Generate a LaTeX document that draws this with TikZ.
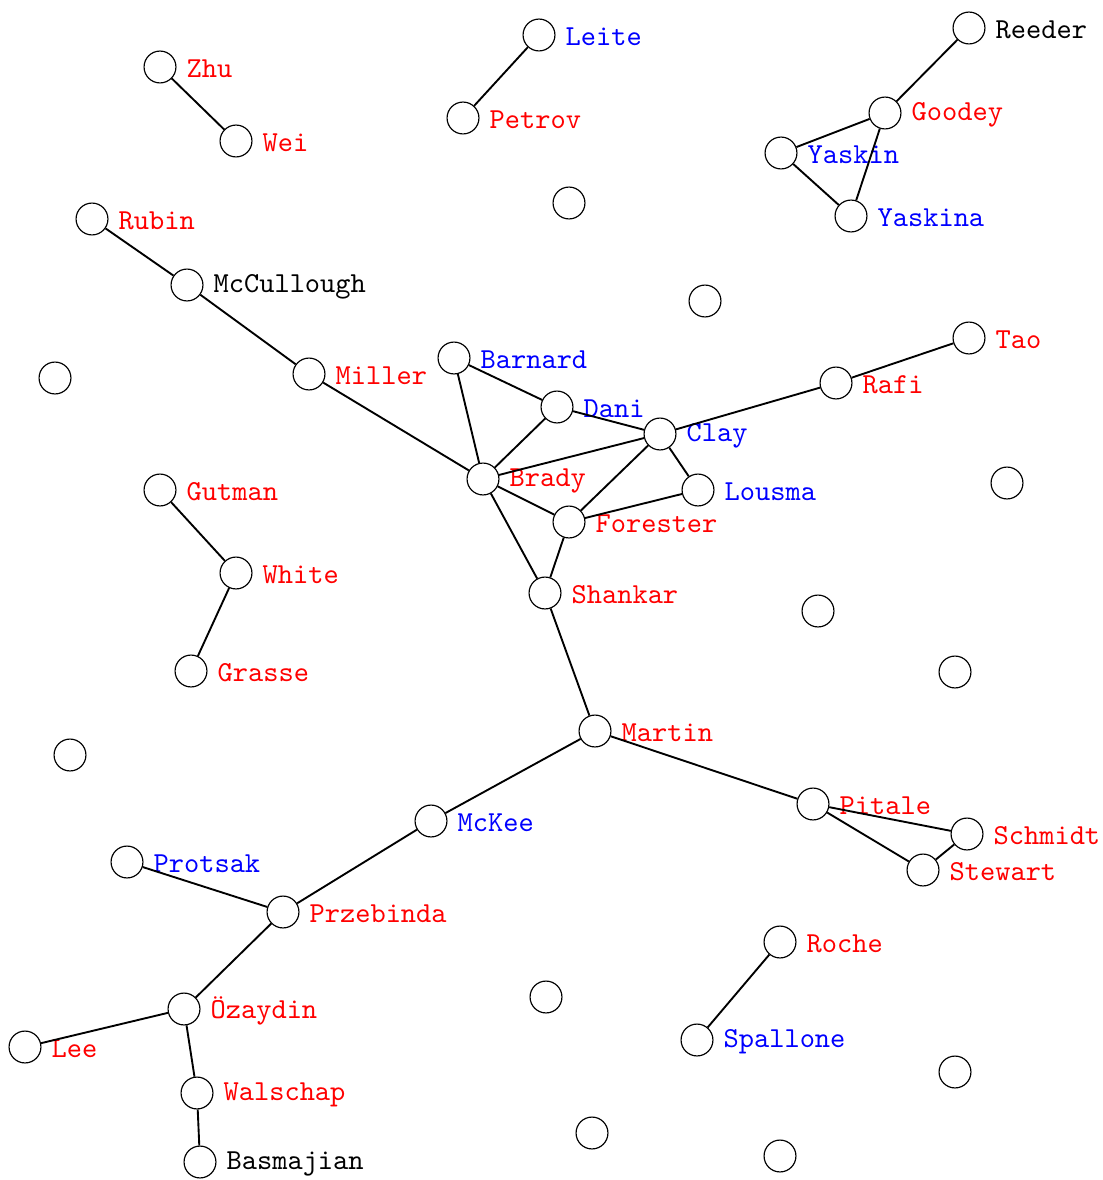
\documentclass[tikz,border=0pt]{standalone}
\usepackage{fontspec}
\begin{document}
\begin{tikzpicture}[x=0.345pt,y=-0.345pt,
  person/.style={circle,draw,line width=0.4pt,minimum size=11pt,inner sep=0pt,fill=white},
  lbl/.style={anchor=west,font=\ttfamily,inner sep=3.3pt,yshift=-0.6pt},
  edge/.style={line width=0.65pt}]
\useasboundingbox (0,0) rectangle (1103,1180);
% nodes
\foreach \n/\x/\y in {Zhu/160/67, Wei/236/141, Leite/539/35, Petrov/463/118, Reeder/969/28,
  Goodey/885/113, Yaskin/781/153, Yaskina/851/216, Rubin/92/219, McCullough/187/285,
  Tao/969/338, Rafi/836/383, Barnard/454/358, Miller/309/374, Dani/557/407, Clay/660/434,
  Brady/483/479, Lousma/698/490, Gutman/160/490, Forester/569/522, White/236/573,
  Shankar/545/593, Grasse/191/671, Martin/595/731, Pitale/813/804, McKee/431/821,
  Schmidt/967/834, Protsak/127/862, Stewart/923/870, Przebinda/283/912, Roche/780/942,
  Ozaydin/184/1009, Spallone/697/1040, Lee/25/1047, Walschap/197/1093, Basmajian/200/1162,
  u1/569/203, u2/705/301, u3/55/378, u4/1007/483, u5/818/611, u6/955/672, u7/70/755,
  u8/546/997, u9/955/1072, u10/592/1133, u11/780/1156}
  \node[person] (\n) at (\x,\y) {};
% labels
\foreach \n/\t/\c in {Zhu/Zhu/red, Wei/Wei/red, Leite/Leite/blue, Petrov/Petrov/red,
  Reeder/Reeder/black, Goodey/Goodey/red, Yaskin/Yaskin/blue, Yaskina/Yaskina/blue,
  Rubin/Rubin/red, McCullough/McCullough/black, Tao/Tao/red, Rafi/Rafi/red,
  Barnard/Barnard/blue, Miller/Miller/red, Dani/Dani/blue, Clay/Clay/blue,
  Brady/Brady/red, Lousma/Lousma/blue, Gutman/Gutman/red, Forester/Forester/red,
  White/White/red, Shankar/Shankar/red, Grasse/Grasse/red, Martin/Martin/red,
  Pitale/Pitale/red, McKee/McKee/blue, Schmidt/Schmidt/red, Protsak/Protsak/blue,
  Stewart/Stewart/red, Przebinda/Przebinda/red, Roche/Roche/red, Ozaydin/Özaydin/red,
  Spallone/Spallone/blue, Lee/Lee/red, Walschap/Walschap/red, Basmajian/Basmajian/black}
  \node[lbl,text=\c] (\n-l) at (\n.east) {\t};
% edges
\foreach \a/\b in {Zhu/Wei, Leite/Petrov, Reeder/Goodey, Goodey/Yaskin, Goodey/Yaskina,
  Yaskin/Yaskina, Rubin/McCullough, McCullough/Miller, Miller/Brady, Barnard/Dani,
  Barnard/Brady, Dani/Brady, Dani/Clay, Clay/Brady, Clay/Rafi, Rafi/Tao, Clay/Lousma,
  Clay/Forester, Lousma/Forester, Brady/Forester, Brady/Shankar, Forester/Shankar,
  Shankar/Martin, Gutman/White, White/Grasse, Martin/McKee, Martin/Pitale,
  Pitale/Schmidt, Pitale/Stewart, Stewart/Schmidt, McKee/Przebinda, Protsak/Przebinda,
  Przebinda/Ozaydin, Ozaydin/Lee, Ozaydin/Walschap, Walschap/Basmajian, Roche/Spallone}
  \draw[edge] (\a) -- (\b);
\end{tikzpicture}
\end{document}
